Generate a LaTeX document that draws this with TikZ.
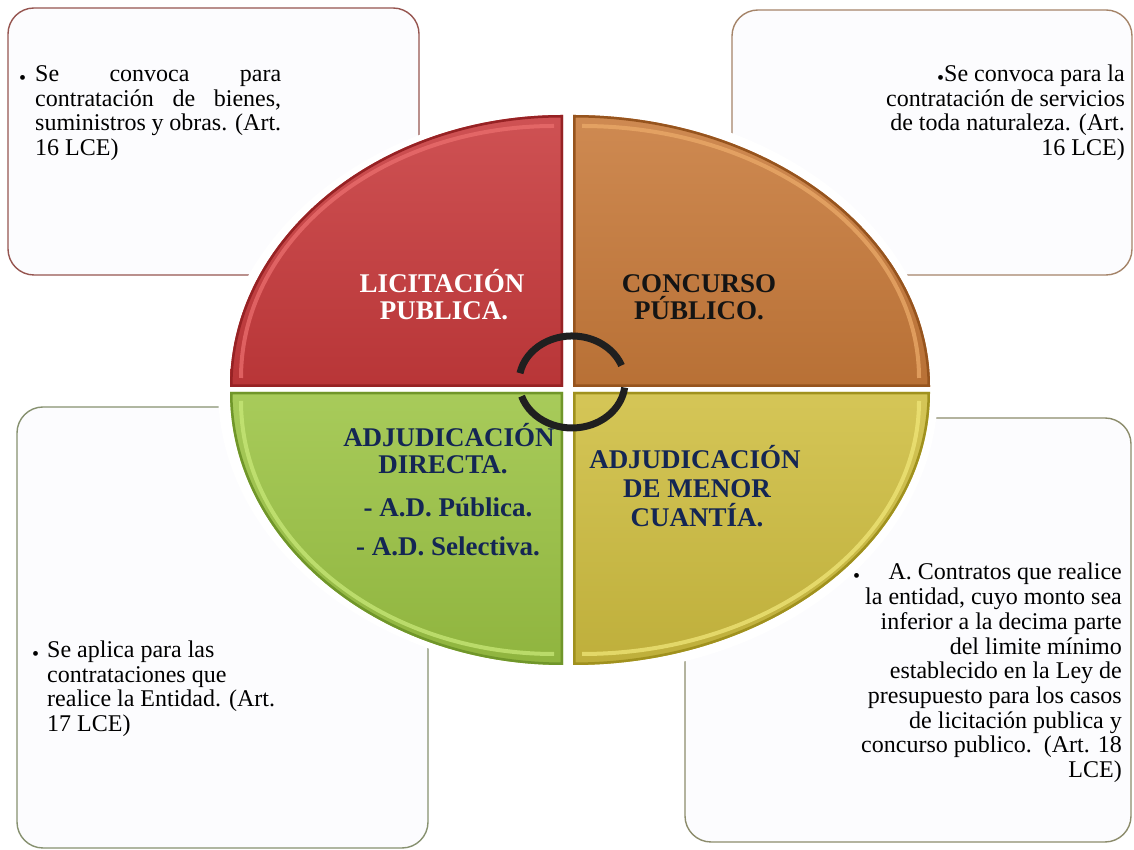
\documentclass[tikz,border=0pt]{standalone}
\usepackage{fontspec}
\setmainfont{Liberation Serif}
\definecolor{redq}{RGB}{200,58,60}
\definecolor{redqd}{RGB}{150,34,36}
\definecolor{redql}{RGB}{235,110,110}
\definecolor{orangeq}{RGB}{200,122,58}
\definecolor{orangeqd}{RGB}{150,84,30}
\definecolor{orangeql}{RGB}{235,170,105}
\definecolor{yellowq}{RGB}{207,190,64}
\definecolor{yellowqd}{RGB}{160,145,30}
\definecolor{yellowql}{RGB}{240,230,120}
\definecolor{greenq}{RGB}{156,196,68}
\definecolor{greenqd}{RGB}{112,150,42}
\definecolor{greenql}{RGB}{200,232,120}
\definecolor{navy}{RGB}{20,38,84}
\definecolor{tlb}{RGB}{150,85,80}
\definecolor{trb}{RGB}{165,132,105}
\definecolor{blb}{RGB}{135,145,112}
\definecolor{brb}{RGB}{140,140,108}
\definecolor{boxfill}{RGB}{252,252,254}
\newcommand\myquad[5]{%
  \begin{scope}
    \clip #1;
    \shade[top color=#2!88!white, bottom color=#2!92!black] #1;
    \draw[#3, line width=5pt] #1;
    \draw[#4, line width=4pt, opacity=0.75] #5;
  \end{scope}}
\newcommand\bdot{\raisebox{-2.5pt}{\fontsize{20}{20}\selectfont •}}
\begin{document}
\begin{tikzpicture}[x=1pt,y=1pt,
  box/.style={draw, line width=1.4pt, rounded corners=26pt, fill=boxfill, inner sep=0pt},
  txt/.style={font=\fontsize{24}{24}\selectfont, inner sep=0pt},
  bul/.style={inner sep=0pt, anchor=base west},
  ttl/.style={font=\bfseries\fontsize{27}{27}\selectfont, inner sep=0pt, anchor=base},
  cyc/.style={line width=7pt, draw=black!88}]
\useasboundingbox (0,0) rectangle (1134,850);
\fill[white] (0,0) rectangle (1134,850);
% corner boxes
\node[box, draw=tlb, minimum width=411pt, minimum height=267pt] (tlbox) at (213.5,708.5) {};
\node[box, draw=trb, minimum width=400pt, minimum height=265pt] (trbox) at (932,707.5) {};
\node[box, draw=blb, minimum width=411pt, minimum height=441pt] (blbox) at (222.5,222.5) {};
\node[box, draw=brb, minimum width=446pt, minimum height=424pt] (brbox) at (908,220) {};
% white halo
\fill[white] (578,460) ellipse [x radius=360, y radius=284];
% quadrants
\myquad{(563,463) -- (230,463) arc[start angle=180,end angle=90,x radius=333,y radius=272] -- cycle}{redq}{redqd}{redql}{(241,472) arc[start angle=180,end angle=90,x radius=313,y radius=252]}
\myquad{(573,463) -- (573,735) arc[start angle=90,end angle=0,x radius=357,y radius=272] -- cycle}{orangeq}{orangeqd}{orangeql}{(582,724) arc[start angle=90,end angle=0,x radius=337,y radius=252]}
\myquad{(573,458) -- (930,458) arc[start angle=0,end angle=-90,x radius=357,y radius=273] -- cycle}{yellowq}{yellowqd}{yellowql}{(919,449) arc[start angle=0,end angle=-90,x radius=337,y radius=253]}
\myquad{(563,458) -- (563,185) arc[start angle=-90,end angle=-180,x radius=333,y radius=273] -- cycle}{greenq}{greenqd}{greenql}{(554,196) arc[start angle=-90,end angle=-180,x radius=313,y radius=253]}
% cycle arrows
\draw[cyc] (520,476.8) arc[start angle=169,end angle=21,x radius=53,y radius=46];
\draw[cyc] (521.6,453.8) arc[start angle=198,end angle=353,x radius=53,y radius=46];
% quadrant titles
\node[ttl, text=white] (lic1) at (442,557) {LICITACIÓN};
\node[ttl, text=white] (lic2) at (444,530) {PUBLICA.};
\node[ttl, text=black!92] (con1) at (699,557) {CONCURSO};
\node[ttl, text=black!92] (con2) at (699,530) {PÚBLICO.};
\node[ttl, text=navy] (adj1) at (449,403) {ADJUDICACIÓN};
\node[ttl, text=navy] (adj2) at (443,376) {DIRECTA.};
\node[ttl, text=navy] (adj3) at (448,333) {- A.D. Pública.};
\node[ttl, text=navy] (adj4) at (448,294) {- A.D. Selectiva.};
\node[ttl, text=navy] (men1) at (695,381) {ADJUDICACIÓN};
\node[ttl, text=navy] (men2) at (697,352) {DE MENOR};
\node[ttl, text=navy] (men3) at (697,323) {CUANTÍA.};
% top-left text
\node[bul] (tlbul) at (19,768) {\bdot};
\node[txt, anchor=base west] (tl1) at (35,768) {\makebox[246pt][s]{Se convoca para}};
\node[txt, anchor=base west] (tl2) at (35,743) {\makebox[246pt][s]{contratación de bienes,}};
\node[txt, anchor=base west] (tl3) at (35,719) {\makebox[246pt][s]{suministros y obras. (Art.}};
\node[txt, anchor=base west] (tl4) at (35,694) {16 LCE)};
% top-right text
\node[txt, anchor=base east] (tr1) at (1125,768) {\bdot Se convoca para la};
\node[txt, anchor=base east] (tr2) at (1125,743) {contratación de servicios};
\node[txt, anchor=base east] (tr3) at (1125,719) {de toda naturaleza. (Art.};
\node[txt, anchor=base east] (tr4) at (1125,694) {16 LCE)};
% bottom-left text
\node[bul] (blbul) at (32,192) {\bdot};
\node[txt, anchor=base west] (bl1) at (47,192) {Se aplica para las};
\node[txt, anchor=base west] (bl2) at (47,167) {contrataciones que};
\node[txt, anchor=base west] (bl3) at (47,143) {realice la Entidad. (Art.};
\node[txt, anchor=base west] (bl4) at (47,118) {17 LCE)};
% bottom-right text
\node[bul] (brbul) at (853,270) {\bdot};
\node[txt, anchor=base east] (br1) at (1122,270) {A. Contratos que realice};
\node[txt, anchor=base east] (br2) at (1122,245) {la entidad, cuyo monto sea};
\node[txt, anchor=base east] (br3) at (1122,220) {inferior a la decima parte};
\node[txt, anchor=base east] (br4) at (1122,195) {del limite mínimo};
\node[txt, anchor=base east] (br5) at (1122,171) {establecido en la Ley de};
\node[txt, anchor=base east] (br6) at (1122,146) {presupuesto para los casos};
\node[txt, anchor=base east] (br7) at (1122,121) {de licitación publica y};
\node[txt, anchor=base east] (br8) at (1122,97) {concurso publico.\ \ (Art. 18};
\node[txt, anchor=base east] (br9) at (1122,72) {LCE)};
\end{tikzpicture}
\end{document}
